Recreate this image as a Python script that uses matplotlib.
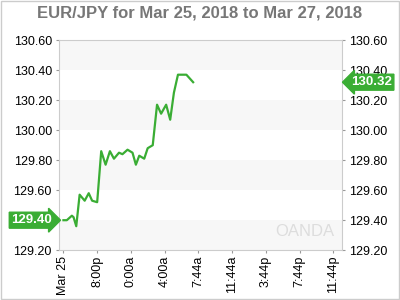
import matplotlib
matplotlib.use('Agg')
import matplotlib.pyplot as plt
from matplotlib.patches import Rectangle
import matplotlib.transforms as mtransforms

plt.rcParams['font.family'] = ['Liberation Sans', 'DejaVu Sans']

# EUR/JPY, hours since the first tick
hours = [0.0, 0.4, 1.0, 1.2, 1.52, 1.92, 2.52, 3.0, 3.4, 4.0, 4.48, 5.0, 5.51, 5.99,
         6.59, 7.0, 7.6, 8.19, 8.59, 8.99, 9.58, 9.99, 10.59, 11.1, 11.58, 12.18,
         12.66, 13.1, 13.58, 14.58, 15.38]
price = [129.40, 129.40, 129.43, 129.42, 129.36, 129.57, 129.53, 129.58, 129.53, 129.52,
         129.86, 129.77, 129.86, 129.81, 129.85, 129.84, 129.87, 129.85, 129.77, 129.83,
         129.81, 129.88, 129.90, 130.17, 130.11, 130.17, 130.07, 130.25, 130.37, 130.37,
         130.32]
xtick_pos = [0, 4, 8, 12, 16, 20, 24, 28, 32]
xtick_labels = ['Mar 25', '8:00p', '0:00a', '4:00a', '7:44a', '11:44a', '3:44p', '7:44p', '11:44p']
yticks = [129.20, 129.40, 129.60, 129.80, 130.00, 130.20, 130.40, 130.60]
first_price = 129.40
last_price = 130.32

green = '#3aad34'

fig = plt.figure(figsize=(4, 3), dpi=100)
fig.patches.append(Rectangle((0.002, 0.003), 0.995, 0.994, transform=fig.transFigure,
                             fill=False, edgecolor='#cccccc', linewidth=1))
ax = fig.add_axes([0.147, 0.166, 0.709, 0.70])

# alternating bands
for i in range(len(yticks) - 1):
    if i % 2 == 0:
        ax.axhspan(yticks[i], yticks[i + 1], color='#f7f7f7', zorder=0, linewidth=0)

ax.plot(hours, price, color=green, linewidth=1.6, zorder=3)

ax.set_xlim(-0.55, 33.08)
ax.set_ylim(129.20, 130.60)
ax.set_xticks(xtick_pos)
ax.set_xticklabels(xtick_labels, rotation=90, fontsize=9)
ax.set_yticks(yticks)
ax.set_yticklabels(['%.2f' % v for v in yticks], fontsize=9)
ax.tick_params(axis='y', which='both', left=True, right=True, labelleft=True, labelright=True,
               length=2.5, color='#999999', pad=2.5)
ax.tick_params(axis='x', length=2.5, color='#999999', pad=1.5)
for s in ax.spines.values():
    s.set_color('#cccccc')

# the start badge covers the left 129.40 label
for t in ax.yaxis.get_major_ticks():
    if abs(t.get_loc() - first_price) < 1e-6:
        t.label1.set_visible(False)

fig.text(0.5, 1 - 13 / 300, 'EUR/JPY for Mar 25, 2018 to Mar 27, 2018', ha='center', va='center',
         fontsize=12, fontweight='bold', color='#777777')

# price badges
tr_left = mtransforms.blended_transform_factory(fig.transFigure, ax.transData)
ax.text(52 / 400, first_price, '%.2f' % first_price, transform=tr_left, ha='right', va='center',
        fontsize=9.5, fontweight='bold', color='white', clip_on=False,
        bbox=dict(boxstyle='rarrow,pad=0.15', fc=green, ec=green))
ax.text(351 / 400, last_price, '%.2f' % last_price, transform=tr_left, ha='left', va='center',
        fontsize=9.5, fontweight='bold', color='white', clip_on=False,
        bbox=dict(boxstyle='larrow,pad=0.15', fc=green, ec=green))

ax.text(0.97, 0.09, 'OANDA', transform=ax.transAxes, ha='right', va='center',
        fontsize=12, color='#dddddd', zorder=1)

fig.savefig('out.png', dpi=100)
